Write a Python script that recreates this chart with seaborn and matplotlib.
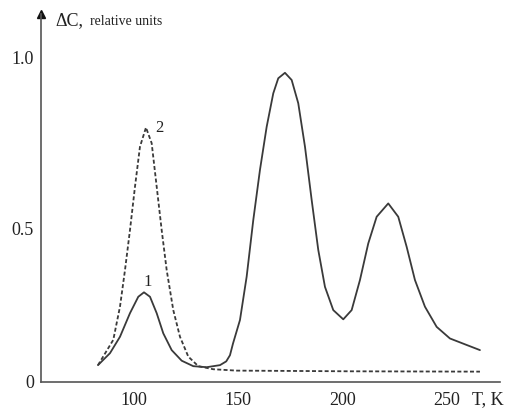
import pandas as pd
import seaborn as sns
import matplotlib.pyplot as plt

# curve 1 (solid): temperature, K and signal, relative units
t_curve1 = [82.75, 88.50, 93.29, 98.08, 102.06, 104.79, 107.67, 110.88, 114.04, 118.06,
            122.86, 128.41, 134.83, 141.21, 144.2, 146.00, 147.44, 150.79, 154.00, 157.16,
            160.37, 163.58, 166.75, 169.14, 172.35, 175.56, 178.72, 181.94, 185.15, 188.31,
            191.52, 195.50, 200.29, 204.31, 208.29, 212.27, 216.29, 221.85, 226.64, 230.67,
            234.64, 239.43, 245.04, 251.41, 259.42, 265.79]
dc_curve1 = [0.099, 0.134, 0.182, 0.251, 0.299, 0.312, 0.299, 0.251, 0.192, 0.143,
             0.112, 0.096, 0.093, 0.099, 0.110, 0.128, 0.162, 0.231, 0.358, 0.523,
             0.670, 0.796, 0.894, 0.938, 0.954, 0.933, 0.865, 0.738, 0.582, 0.436,
             0.328, 0.260, 0.233, 0.260, 0.348, 0.455, 0.533, 0.572, 0.533, 0.445,
             0.348, 0.270, 0.211, 0.177, 0.158, 0.143]

# curve 2 (dashed)
t_curve2 = [82.75, 90.08, 93.29, 95.69, 98.08, 100.48, 102.87, 105.75, 108.48, 110.88,
            113.27, 115.67, 118.83, 122.04, 126.02, 130.81, 138.00, 149.21, 203.5, 265.79]
dc_curve2 = [0.099, 0.173, 0.270, 0.377, 0.494, 0.621, 0.738, 0.794, 0.748, 0.621,
             0.494, 0.377, 0.260, 0.182, 0.124, 0.096, 0.087, 0.083, 0.081, 0.080]

x_ticks = [100, 150, 200, 250]
y_floor = 0.0497
y_ticks = [y_floor, 0.5, 1.0]
y_tick_labels = ["0", "0.5", "1.0"]

df = pd.concat([
    pd.DataFrame({"T": t_curve1, "dC": dc_curve1, "curve": "1"}),
    pd.DataFrame({"T": t_curve2, "dC": dc_curve2, "curve": "2"}),
])

sns.set_style("white")
plt.rcParams['font.family'] = ['Liberation Serif', 'DejaVu Serif']
plt.rcParams['lines.solid_joinstyle'] = 'round'
plt.rcParams['lines.dash_joinstyle'] = 'round'

fig = plt.figure(figsize=(5.09, 4.08), dpi=100)
ax = fig.add_axes([41 / 509, (408 - 382) / 408, (500 - 41) / 509, (382 - 14) / 408])

line_col = "#3a3a3a"
sns.lineplot(data=df, x="T", y="dC", style="curve", dashes={"1": "", "2": (2.2, 1.3)},
             color=line_col, linewidth=1.3, sort=False, legend=False, ax=ax)

ax.set_xlim(55.44, 275.4)
ax.set_ylim(y_floor, 1.126)
ax.set_xticks(x_ticks)
ax.set_yticks(y_ticks)
ax.set_yticklabels(y_tick_labels)
ax.set_xlabel("")
ax.set_ylabel("")

for side in ["top", "right"]:
    ax.spines[side].set_visible(False)
for side in ["left", "bottom"]:
    ax.spines[side].set_color("#555555")
    ax.spines[side].set_linewidth(1.2)

ax.tick_params(axis="x", direction="in", length=3, width=1, colors="#555555",
               labelcolor="#222222", labelsize=13, pad=7)
ax.tick_params(axis="y", direction="in", length=4, width=1, colors="#555555",
               labelcolor="#222222", labelsize=13, pad=5)

# arrow head on top of the y axis
ax.plot(0, 1, marker="^", color="#111111", markersize=6, transform=ax.transAxes,
        clip_on=False)

# axis captions
ax.text(55 / 509, 1 - 25 / 408, "ΔC,", transform=fig.transFigure, fontsize=13,
        va="baseline", ha="left", color="#222222")
ax.text(90 / 509, 1 - 25 / 408, "relative units", transform=fig.transFigure, fontsize=10,
        va="baseline", ha="left", color="#222222")
ax.text(472 / 509, 1 - 400 / 408, "T, K", transform=fig.transFigure, fontsize=13,
        va="center", ha="left", color="#222222")

# curve numbers
ax.text(106.6, 0.342, "1", fontsize=12, ha="center", va="center", color="#222222")
ax.text(112.0, 0.792, "2", fontsize=12, ha="center", va="center", color="#222222")

fig.savefig("out.png", dpi=100)
